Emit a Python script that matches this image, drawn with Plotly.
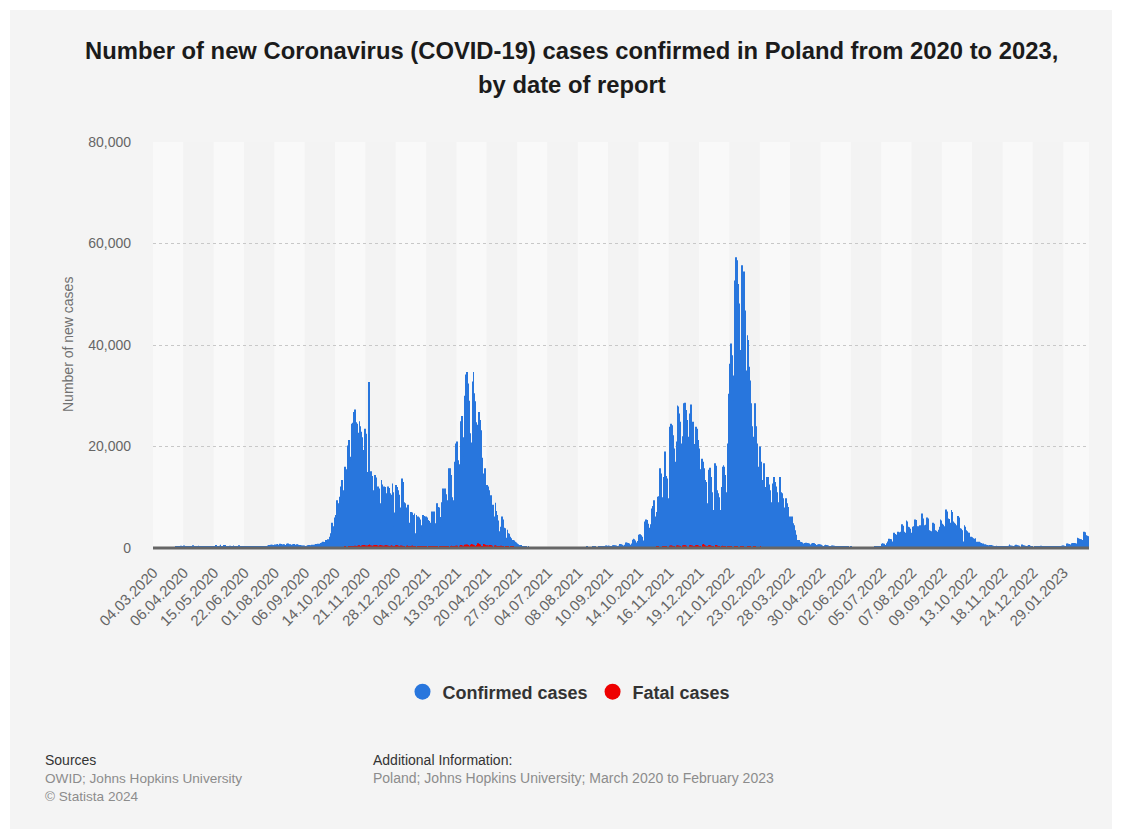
import plotly.graph_objects as go

# ---------------------------------------------------------------------------
# Daily new confirmed cases and deaths, Poland (one value per reported day)
# ---------------------------------------------------------------------------
confirmed_mar20_sep20 = [
    1, 0, 4, 0, 6, 1, 5, 10, 9, 22, 17,
    36, 40, 18, 48, 52, 54, 75, 111, 97, 115, 152,
    115, 170, 249, 224, 193, 256, 243, 392, 437, 244, 320,
    475, 311, 325, 380, 370, 357, 336, 268, 260, 380, 545,
    316, 306, 270, 380, 361, 460, 263, 285, 230, 215, 318,
    340, 312, 307, 279, 285, 233, 330, 261, 314, 316, 267,
    370, 395, 577, 330, 300, 416, 443, 660, 320, 242, 360,
    576, 599, 380, 314, 282, 375, 440, 407, 300, 305, 506,
    300, 314, 371, 230, 301, 560, 320, 311, 300, 263, 282,
    320, 270, 300, 280, 230, 250, 330, 290, 200, 240, 280,
    300, 320, 250, 300, 290, 270, 280, 300, 330, 310, 340,
    360, 380, 400, 420, 440, 600, 580, 620, 640, 590, 600,
    680, 600, 720, 780, 620, 550, 830, 810, 640, 700, 740,
    600, 590, 830, 900, 720, 700, 760, 640, 580, 720, 810,
    650, 600, 760, 650, 540, 570, 600, 550, 480, 420, 500,
]
confirmed_sep20_jul21 = [
    400, 380, 450, 520, 600, 480, 560, 650, 600, 520, 640,
    660, 800, 760, 850, 700, 820, 1000, 1100, 1250, 1050, 1200,
    1150, 1600, 1550, 1700, 1500, 2200, 2900, 5000, 3700, 4300, 6000,
    6500, 8100, 9400, 8800, 7400, 10100, 12100, 13400, 11400, 10200, 16000,
    15500, 13400, 12000, 20200, 21300, 18000, 17200, 24500, 24700, 26800, 27300,
    24800, 21300, 24500, 22700, 25000, 24000, 22900, 21800, 19300, 16700, 23500,
    22500, 15000, 14000, 32700, 17300, 15000, 15100, 14200, 11400, 10000, 14400,
    13900, 12000, 12100, 11700, 8800, 5000, 13400, 12500, 11400, 12100, 12000,
    10800, 4900, 12100, 11800, 10800, 10500, 9200, 12700, 11000, 4200, 7000,
    12400, 12000, 11400, 10500, 6000, 8000, 13700, 13000, 10100, 9000, 8800,
    8000, 6000, 8500, 5000, 4900, 7100, 7000, 6500, 5800, 6800, 2900,
    6500, 2900, 6200, 6000, 5600, 4500, 2400, 6500, 6300, 6200, 5600,
    6200, 6000, 5500, 5300, 2300, 5000, 7200, 7000, 7200, 4900, 3000,
    8800, 8700, 8100, 8000, 6100, 4200, 9000, 11700, 11500, 11700, 10600,
    9400, 6200, 15700, 15600, 15700, 14400, 10000, 6000, 9400, 17000, 20600,
    21000, 17300, 14400, 16500, 25000, 25500, 26000, 21800, 18000, 30000, 34200,
    34700, 32400, 29000, 22600, 17000, 20800, 32800, 34700, 30500, 28900, 24800,
    8200, 24300, 26800, 25200, 23200, 17800, 9900, 14700, 15400, 15700, 12400,
    12400, 12100, 11400, 9000, 10400, 6800, 8500, 3500, 6200, 8900, 7300,
    6500, 5400, 3300, 2300, 4200, 6200, 5600, 4000, 3900, 2000, 1600,
    3600, 2900, 2800, 2200, 1900, 1000, 1600, 1500, 1250, 1100, 800,
    900, 750, 600, 450, 600, 400, 300, 260, 250, 200, 170,
    150, 220, 180, 150, 110, 80, 150, 120, 100, 90, 70,
    60, 100, 110, 80, 75, 60, 50, 90, 100, 70, 60,
]
confirmed_jul21_apr22 = [
    56, 45, 40, 70, 90, 84, 70, 55, 40, 90, 100,
    80, 79, 60, 50, 110, 112, 95, 85, 70, 55, 120,
    130, 110, 100, 90, 80, 150, 160, 135, 120, 105, 90,
    100, 120, 190, 180, 160, 140, 115, 130, 150, 230, 200,
    190, 170, 140, 150, 180, 260, 250, 220, 190, 160, 180,
    260, 350, 320, 290, 250, 210, 270, 380, 480, 430, 380,
    500, 430, 360, 180, 330, 560, 520, 500, 480, 380, 230,
    450, 800, 760, 720, 650, 500, 300, 620, 1100, 1050, 1000,
    900, 650, 400, 900, 1650, 1800, 1700, 1500, 1100, 600, 1400,
    2600, 2700, 2500, 2200, 1500, 900, 3000, 5200, 5600, 5500, 4800,
    4000, 2100, 4700, 7800, 8300, 9400, 8600, 6200, 3600, 7100, 10100,
    10200, 15700, 14700, 10000, 5600, 14000, 19000, 18600, 14200, 13700, 9800,
    6700, 23900, 24500, 24200, 22200, 19600, 17000, 12800, 21000, 28100, 27900,
    26500, 24900, 20600, 12700, 22000, 28500, 28600, 27200, 25200, 21900, 14000,
    26500, 24200, 28300, 24500, 24900, 20500, 12500, 23900, 23500, 21300, 19600,
    15500, 15400, 10000, 17600, 17000, 15700, 13400, 13000, 8800, 5500, 15400,
    15800, 14000, 12700, 11000, 7500, 4900, 16700, 16200, 11400, 10800, 10000,
    7500, 7000, 12000, 16000, 16300, 16000, 14400, 11000, 9000, 20600, 30400,
    36300, 40300, 38000, 34000, 29000, 52700, 57000, 57300, 56700, 52000, 48200,
    36000, 39000, 55700, 54000, 54500, 46800, 45500, 35000, 41900, 41000, 35700,
    33000, 28500, 24000, 19000, 21900, 28500, 24000, 20600, 20000, 16000, 9000,
    20000, 17000, 13400, 11500, 16700, 12000, 7500, 14000, 13400, 14000, 12500,
    11400, 9000, 6500, 12700, 14000, 13000, 12100, 11000, 9000, 6000, 14000,
    12100, 11000, 10800, 9800, 8000, 5000, 9800, 8800, 8100, 6200, 5500,
    6200, 3500, 6200, 4900, 4500, 3500, 2600, 1600, 700, 1600, 1250,
    1200, 1100, 1000, 900, 400, 1000, 1050, 1000, 950, 900, 700,
    300, 900, 1000, 950, 850, 800, 600, 250, 700, 750, 700,
]
confirmed_apr22_feb23 = [
    650, 500, 400, 150, 550, 650, 600, 550, 480, 350, 150,
    400, 480, 450, 420, 380, 300, 110, 300, 350, 330, 310,
    280, 220, 90, 250, 280, 260, 240, 210, 160, 70, 200,
    220, 190, 170, 130, 60, 160, 170, 160, 150, 140, 100,
    40, 140, 150, 140, 130, 120, 90, 40, 150, 170, 160,
    150, 130, 100, 50, 300, 330, 320, 300, 260, 200, 90,
    850, 920, 900, 820, 600, 250, 950, 1300, 1800, 1750, 1700,
    1300, 500, 3000, 2800, 2750, 2600, 2200, 3200, 900, 3100, 3200,
    4700, 4400, 3200, 3000, 1200, 5400, 5200, 4200, 4100, 3800, 3000,
    1500, 4200, 4300, 5600, 5500, 4300, 4200, 1600, 4300, 4500, 4000,
    6800, 5800, 4500, 1700, 4600, 6000, 5800, 3900, 3500, 3400, 1400,
    3300, 5000, 4800, 3500, 3400, 3200, 1300, 3600, 4200, 5600, 5400,
    4800, 4600, 1700, 4300, 7600, 7200, 5800, 5700, 5000, 2000, 7500,
    7100, 5200, 5000, 4800, 4500, 1700, 6300, 6000, 3900, 3800, 3500,
    3400, 1300, 4500, 4200, 3500, 3300, 3000, 3000, 1000, 2200, 2100,
    1900, 1800, 1700, 1900, 600, 1250, 1200, 1250, 1100, 1000, 400,
    900, 700, 700, 680, 650, 600, 250, 550, 600, 580, 500,
    450, 400, 150, 400, 420, 400, 380, 350, 300, 120, 350,
    380, 400, 380, 360, 300, 120, 450, 700, 500, 450, 420,
    350, 130, 480, 650, 520, 480, 420, 380, 140, 500, 700,
    550, 500, 420, 360, 130, 450, 600, 450, 400, 350, 300,
    120, 100, 250, 400, 350, 300, 100, 380, 450, 400, 350,
    300, 120, 320, 380, 350, 300, 280, 100, 300, 350, 330,
    300, 260, 100, 280, 350, 320, 300, 400, 150, 450, 500,
    450, 400, 200, 800, 900, 850, 800, 700, 300, 950, 1000,
    980, 950, 900, 400, 2000, 1900, 1800, 1700, 1700, 600, 1600,
    3200, 3100, 2500, 2400, 2300, 2200,
]

fatal_mar20_sep20 = [
    0, 0, 0, 0, 0, 0, 0, 0, 1, 1, 0,
    2, 1, 3, 0, 2, 2, 1, 4, 3, 7, 5,
    4, 8, 6, 7, 14, 16, 10, 19, 24, 18, 22,
    20, 26, 28, 22, 18, 30, 35, 27, 20, 18, 24,
    26, 30, 22, 16, 20, 28, 33, 25, 19, 15, 22,
    26, 24, 17, 13, 20, 18, 22, 15, 12, 18, 20,
    15, 12, 10, 18, 20, 14, 8, 10, 17, 13, 9,
    16, 15, 12, 7, 10, 14, 12, 8, 6, 11, 12,
    9, 7, 5, 10, 13, 8, 6, 5, 9, 11, 7,
    6, 4, 8, 10, 6, 5, 3, 7, 9, 6, 4,
    3, 8, 6, 5, 4, 3, 7, 9, 6, 5, 8,
    10, 12, 9, 6, 4, 8, 11, 9, 7, 5, 13,
    10, 8, 6, 12, 15, 9, 7, 11, 14, 10, 8,
    7, 13, 16, 12, 9, 10, 14, 17, 11, 8, 9,
    12, 15, 10, 7, 6, 11, 13, 9, 8, 7, 12,
]
fatal_sep20_jul21 = [
    10, 8, 14, 16, 12, 9, 11, 15, 18, 13, 10,
    12, 17, 20, 14, 11, 16, 22, 25, 18, 15, 24,
    28, 30, 22, 19, 35, 42, 50, 38, 30, 60, 75,
    76, 90, 70, 66, 100, 130, 150, 120, 110, 170, 200,
    230, 180, 150, 260, 300, 330, 280, 220, 370, 400, 460,
    380, 300, 450, 520, 550, 400, 350, 480, 550, 600, 430,
    480, 330, 470, 600, 670, 520, 470, 420, 300, 540, 600,
    580, 510, 430, 280, 560, 610, 520, 480, 420, 250, 480,
    550, 500, 430, 390, 230, 460, 520, 430, 380, 320, 200,
    520, 560, 430, 310, 140, 480, 510, 420, 330, 280, 120,
    450, 480, 400, 300, 260, 90, 420, 440, 380, 300, 240,
    100, 390, 410, 350, 280, 230, 95, 360, 390, 320, 260,
    220, 90, 330, 350, 290, 250, 210, 80, 320, 340, 280,
    240, 200, 90, 310, 330, 280, 250, 230, 100, 350, 380,
    330, 280, 240, 120, 400, 420, 360, 310, 200, 150, 420,
    450, 390, 150, 420, 590, 600, 470, 420, 280, 630, 650,
    670, 580, 450, 240, 650, 800, 750, 620, 520, 400, 150,
    600, 950, 800, 700, 600, 320, 400, 800, 760, 620, 550,
    500, 470, 350, 600, 560, 450, 380, 130, 470, 520, 420,
    350, 300, 100, 390, 420, 350, 300, 240, 80, 300, 320,
    270, 220, 180, 50, 230, 250, 200, 160, 120, 40, 160,
    170, 130, 100, 80, 30, 110, 120, 90, 70, 50, 20,
    70, 80, 60, 50, 40, 10, 40, 50, 40, 30, 25,
    8, 30, 35, 25, 20, 15, 5, 20, 25, 18, 14,
]
fatal_jul21_apr22 = [
    10, 4, 12, 15, 10, 8, 6, 2, 8, 10, 7,
    5, 4, 1, 6, 9, 7, 5, 4, 1, 8, 10,
    7, 5, 4, 2, 9, 11, 8, 6, 5, 2, 10,
    8, 12, 9, 7, 6, 2, 10, 14, 11, 8, 7,
    3, 12, 15, 12, 9, 8, 2, 14, 17, 13, 10,
    9, 3, 16, 20, 15, 12, 10, 4, 18, 22, 17,
    15, 12, 5, 20, 25, 19, 16, 13, 6, 24, 30,
    22, 19, 15, 8, 30, 38, 28, 24, 20, 10, 40,
    50, 38, 32, 26, 12, 55, 70, 52, 45, 35, 18,
    75, 62, 50, 40, 20, 90, 110, 100, 85, 70, 45,
    25, 130, 160, 150, 125, 95, 60, 30, 200, 250, 230,
    195, 150, 90, 40, 290, 350, 320, 270, 210, 120, 60,
    60, 460, 470, 420, 330, 250, 110, 70, 500, 530, 500,
    440, 350, 180, 90, 500, 560, 540, 460, 370, 190, 100,
    520, 580, 520, 470, 380, 200, 110, 540, 600, 560, 490,
    400, 200, 120, 700, 775, 650, 500, 380, 250, 100, 550,
    600, 520, 420, 300, 200, 90, 500, 580, 480, 380, 280,
    170, 80, 400, 460, 400, 320, 250, 160, 70, 300, 350,
    330, 280, 210, 130, 60, 300, 350, 320, 260, 190, 120,
    60, 280, 330, 300, 250, 180, 110, 55, 260, 300, 270,
    220, 160, 100, 50, 220, 250, 230, 180, 130, 80, 40,
    200, 180, 150, 110, 70, 50, 25, 160, 180, 150, 120,
    90, 60, 20, 140, 150, 130, 100, 70, 45, 15, 110,
    120, 100, 80, 60, 35, 12, 90, 100, 80, 60, 40,
    30, 10, 70, 80, 60, 45, 30, 20, 8, 50, 55,
    45, 35, 25, 15, 5, 40, 45, 35, 25, 18, 12,
    4, 30, 35, 28, 20, 15, 10, 3, 25, 28, 20,
]
fatal_apr22_feb23 = [
    15, 10, 6, 2, 18, 20, 15, 12, 9, 6, 2,
    14, 16, 13, 10, 8, 5, 1, 12, 14, 11, 9,
    7, 4, 1, 10, 12, 9, 8, 6, 3, 1, 8,
    10, 8, 6, 3, 1, 7, 8, 6, 5, 4, 2,
    0, 6, 7, 5, 4, 3, 2, 0, 5, 6, 5,
    4, 3, 2, 0, 6, 8, 6, 5, 4, 2, 1,
    8, 10, 8, 6, 4, 1, 9, 11, 12, 10, 8,
    6, 2, 14, 12, 11, 9, 7, 15, 3, 13, 14,
    18, 15, 12, 10, 4, 20, 18, 15, 14, 11, 9,
    5, 16, 17, 22, 20, 15, 12, 6, 18, 20, 16,
    26, 22, 17, 6, 19, 24, 22, 15, 12, 11, 5,
    14, 21, 19, 14, 12, 10, 4, 15, 17, 23, 21,
    18, 16, 6, 17, 30, 28, 22, 20, 17, 7, 29,
    27, 20, 18, 16, 14, 6, 24, 22, 15, 14, 12,
    11, 5, 17, 15, 12, 11, 10, 9, 4, 8, 7,
    7, 6, 6, 7, 2, 5, 5, 5, 4, 4, 2,
    4, 3, 3, 3, 3, 2, 1, 3, 3, 3, 2,
    2, 2, 1, 2, 2, 2, 2, 2, 1, 0, 2,
    2, 2, 2, 2, 1, 0, 3, 4, 3, 2, 2,
    2, 0, 3, 4, 3, 3, 2, 2, 1, 3, 4,
    3, 3, 2, 2, 0, 3, 4, 3, 2, 2, 2,
    1, 0, 2, 3, 2, 2, 0, 3, 3, 3, 2,
    2, 1, 2, 3, 3, 2, 2, 0, 2, 3, 2,
    2, 2, 0, 2, 3, 2, 2, 3, 1, 3, 4,
    3, 3, 1, 5, 6, 6, 5, 4, 2, 6, 7,
    7, 6, 6, 3, 12, 11, 10, 9, 9, 4, 10,
    18, 17, 14, 13, 12, 11,
]

# Date labels shown on the category axis (every 33rd reported day)
tick_labels = [
    "04.03.2020", "06.04.2020", "15.05.2020", "22.06.2020", "01.08.2020",
    "06.09.2020", "14.10.2020", "21.11.2020", "28.12.2020", "04.02.2021",
    "13.03.2021", "20.04.2021", "27.05.2021", "04.07.2021", "08.08.2021",
    "10.09.2021", "14.10.2021", "16.11.2021", "19.12.2021", "21.01.2022",
    "23.02.2022", "28.03.2022", "30.04.2022", "02.06.2022", "05.07.2022",
    "07.08.2022", "09.09.2022", "13.10.2022", "18.11.2022", "24.12.2022",
    "29.01.2023",
]
TICK_STEP = 33

confirmed = (confirmed_mar20_sep20 + confirmed_sep20_jul21
             + confirmed_jul21_apr22 + confirmed_apr22_feb23)
fatal = (fatal_mar20_sep20 + fatal_sep20_jul21
         + fatal_jul21_apr22 + fatal_apr22_feb23)
assert len(confirmed) == len(fatal)
n_days = len(confirmed)
day_pos = list(range(n_days))
tick_pos = [i * TICK_STEP for i in range(len(tick_labels))]

# ---------------------------------------------------------------------------
# Layout geometry (pixels)
# ---------------------------------------------------------------------------
W, H = 1122, 839
ML, MR, MT, MB = 153, 33, 142, 291
PW, PH = W - ML - MR, H - MT - MB


def px(x):
    return (x - ML) / PW


def py(y):
    return (H - MB - y) / PH


BLUE = "#2876dd"
RED = "#ee0000"
FONT = "Liberation Sans, Arial, sans-serif"

fig = go.Figure()
fig.add_trace(go.Bar(x=day_pos, y=confirmed, marker_color=BLUE,
                     marker_line_width=0, showlegend=False, hoverinfo="skip"))
fig.add_trace(go.Bar(x=day_pos, y=fatal, marker_color=RED, width=0.45,
                     marker_line_width=0, showlegend=False, hoverinfo="skip"))
# legend entries with round swatches
fig.add_trace(go.Scatter(x=[None], y=[None], mode="markers", name="Confirmed cases",
                         marker=dict(color=BLUE, size=16)))
fig.add_trace(go.Scatter(x=[None], y=[None], mode="markers", name="Fatal cases",
                         marker=dict(color=RED, size=16)))

shapes = [
    # light panel behind the whole chart
    dict(type="rect", xref="paper", yref="paper", x0=px(10), x1=px(1112),
         y0=py(829), y1=py(10), fillcolor="#f4f4f4", line_width=0, layer="below"),
]
# alternating column bands between date ticks
for k in range(len(tick_labels)):
    x0 = k * TICK_STEP - 0.5
    x1 = min((k + 1) * TICK_STEP, n_days) - 0.5
    shapes.append(dict(type="rect", xref="x", yref="paper", x0=x0, x1=x1, y0=0, y1=1,
                       fillcolor="#f9f9f9" if k % 2 == 0 else "#f3f3f3",
                       line_width=0, layer="below"))
# baseline drawn over the foot of the bars
shapes.append(dict(type="line", xref="paper", yref="paper", x0=0, x1=1, y0=0, y1=0,
                   line=dict(color="#666666", width=3), layer="above"))

annotations = [
    dict(text="Number of new Coronavirus (COVID-19) cases confirmed in Poland from 2020 to 2023,",
         x=px(571), y=py(50), xref="paper", yref="paper", showarrow=False,
         xanchor="center", yanchor="middle",
         font=dict(family=FONT, size=23.8, color="#1b1b1b", weight="bold")),
    dict(text="by date of report",
         x=px(572), y=py(84), xref="paper", yref="paper", showarrow=False,
         xanchor="center", yanchor="middle",
         font=dict(family=FONT, size=23.8, color="#1b1b1b", weight="bold")),
    dict(text="Number of new cases", textangle=-90,
         x=px(68), y=py(345), xref="paper", yref="paper", showarrow=False,
         xanchor="center", yanchor="middle",
         font=dict(family=FONT, size=14, color="#707070")),
    dict(text="Sources", x=px(43), y=py(760), xref="paper", yref="paper",
         showarrow=False, xanchor="left", yanchor="middle",
         font=dict(family=FONT, size=14, color="#333333")),
    dict(text="OWID; Johns Hopkins University", x=px(43), y=py(778),
         xref="paper", yref="paper", showarrow=False, xanchor="left", yanchor="middle",
         font=dict(family=FONT, size=13.6, color="#8c8c8c")),
    dict(text="© Statista 2024", x=px(43), y=py(796),
         xref="paper", yref="paper", showarrow=False, xanchor="left", yanchor="middle",
         font=dict(family=FONT, size=13.6, color="#8c8c8c")),
    dict(text="Additional Information:", x=px(371), y=py(760),
         xref="paper", yref="paper", showarrow=False, xanchor="left", yanchor="middle",
         font=dict(family=FONT, size=14, color="#333333")),
    dict(text="Poland; Johns Hopkins University; March 2020 to February 2023",
         x=px(371), y=py(778), xref="paper", yref="paper", showarrow=False,
         xanchor="left", yanchor="middle",
         font=dict(family=FONT, size=14, color="#8c8c8c")),
]

fig.update_layout(
    width=W, height=H,
    margin=dict(l=ML, r=MR, t=MT, b=MB, pad=0),
    paper_bgcolor="white",
    plot_bgcolor="rgba(0,0,0,0)",
    barmode="overlay",
    bargap=0.12,
    font=dict(family=FONT, color="#666666"),
    shapes=shapes,
    annotations=annotations,
    showlegend=True,
    legend=dict(orientation="h", x=px(569), xanchor="center", y=py(692),
                yanchor="middle", bgcolor="rgba(0,0,0,0)",
                font=dict(family=FONT, size=18, color="#333333", weight="bold"),
                itemclick=False, itemdoubleclick=False),
    xaxis=dict(range=[-0.5, n_days - 0.5], tickmode="array", tickvals=tick_pos,
               ticktext=tick_labels, tickangle=-45, showgrid=False,
               showline=False, ticks="", ticklabelstandoff=12,
               zeroline=False, tickfont=dict(family=FONT, size=15, color="#666666"),
               fixedrange=True),
    yaxis=dict(range=[0, 80000], tickmode="array",
               tickvals=[0, 20000, 40000, 60000, 80000], tickformat=",d",
               showgrid=True, gridcolor="#c8c8c8", griddash="dot", gridwidth=1,
               showline=False, zeroline=False, ticks="", ticklabelstandoff=21,
               tickfont=dict(family=FONT, size=14, color="#666666"),
               fixedrange=True),
)

fig.write_html("out.html")
